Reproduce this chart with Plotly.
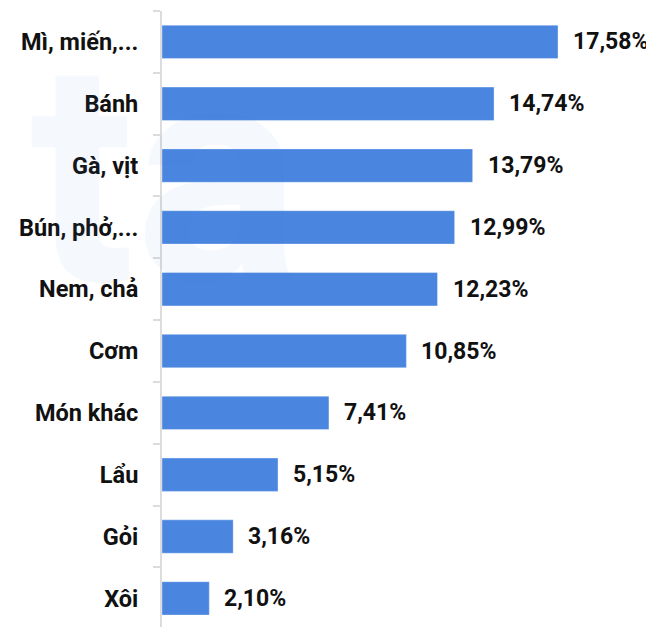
import plotly.graph_objects as go

categories = ["Mì, miến,...", "Bánh", "Gà, vịt", "Bún, phở,...", "Nem, chả",
              "Cơm", "Món khác", "Lẩu", "Gỏi", "Xôi"]
values = [17.58, 14.74, 13.79, 12.99, 12.23, 10.85, 7.41, 5.15, 3.16, 2.10]
value_labels = [f"{v:.2f}".replace(".", ",") + "%" for v in values]

# page body has an 8px default margin, so the figure is sized to fit the window
W, H = 646, 619
fig = go.Figure()

fig.add_trace(go.Bar(
    y=categories, x=values, orientation="h",
    marker=dict(color="#4a86e0", line=dict(color="rgba(255,255,255,0.35)", width=1)),
    hoverinfo="skip",
))

# watermark
fig.add_annotation(
    text="<b>ta</b>", xref="paper", yref="paper", x=-0.273, y=0.736,
    xanchor="left", yanchor="middle", showarrow=False,
    font=dict(family="Roboto", size=310, color="rgba(74,134,224,0.055)"),
)

for c, v, t in zip(categories, values, value_labels):
    fig.add_annotation(
        x=v, y=c, text=t, showarrow=False, xanchor="left", yanchor="middle",
        xshift=13, font=dict(family="Roboto", size=23, color="#111111", weight="bold"),
    )

fig.update_layout(
    width=W, height=H,
    margin=dict(l=154, r=0, t=3, b=0),
    paper_bgcolor="white", plot_bgcolor="rgba(0,0,0,0)",
    bargap=0.46, showlegend=False,
    font=dict(family="Roboto", color="#111111"),
)
fig.update_xaxes(range=[0, 21.84], visible=False, showgrid=False, zeroline=False,
                 automargin=False)
fig.update_yaxes(
    categoryorder="array", categoryarray=categories,
    range=[9.463, -0.5], autorange=False, automargin=False,
    showline=True, linecolor="#dcdcdc", linewidth=2,
    ticks="outside", tickson="boundaries", ticklen=7, tickcolor="#dcdcdc", tickwidth=2,
    showgrid=False, zeroline=False, ticklabelstandoff=17,
    tickfont=dict(family="Roboto", size=23.5, color="#111111", weight="bold"),
)

fig.write_html("out.html")
